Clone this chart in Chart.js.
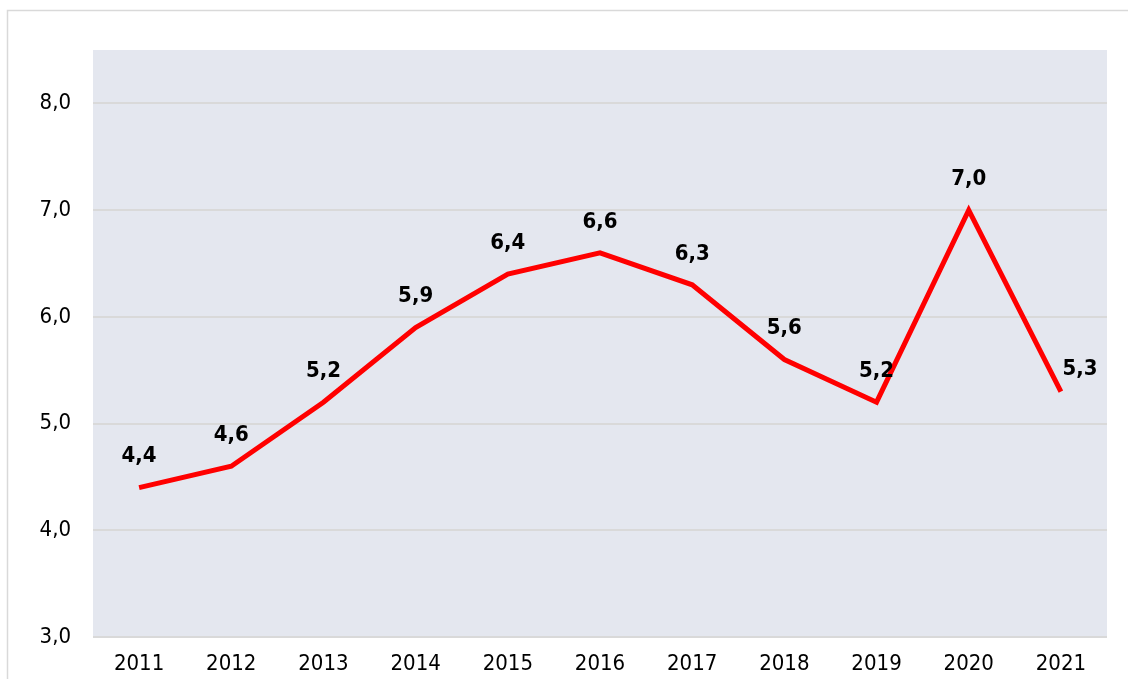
<!DOCTYPE html>
<html><head><meta charset="utf-8">
<script src="https://cdn.jsdelivr.net/npm/chart.js@4/dist/chart.umd.min.js"></script>
<style>html,body{margin:0;padding:0;background:#fff;}#wrap{width:1128px;height:679px;position:relative;}</style>
</head><body><div id="wrap"><canvas id="c" width="1128" height="679"></canvas></div>
<script>
const categories = ['2011','2012','2013','2014','2015','2016','2017','2018','2019','2020','2021'];
const values = [4.4, 4.6, 5.2, 5.9, 6.4, 6.6, 6.3, 5.6, 5.2, 7.0, 5.3];
const yMin = 3, yMax = 8.5, yStep = 1;

const fmt = v => v.toFixed(1).replace('.', ',');

const bgPlugin = {
  id: 'bg',
  beforeDraw(chart) {
    const {ctx, chartArea: a} = chart;
    ctx.save();
    ctx.fillStyle = '#fff';
    ctx.fillRect(0, 0, chart.width, chart.height);
    ctx.strokeStyle = '#d9d9d9';
    ctx.lineWidth = 1.5;
    ctx.strokeRect(7.5, 10.5, chart.width + 10, chart.height + 10);
    ctx.fillStyle = '#e4e7ef';
    ctx.fillRect(a.left, a.top, a.right - a.left, a.bottom - a.top);
    ctx.restore();
  }
};
const labelPlugin = {
  id: 'lbls',
  afterDatasetsDraw(chart) {
    const {ctx} = chart;
    const meta = chart.getDatasetMeta(0);
    ctx.save();
    ctx.font = 'bold 22px "DejaVu Sans Condensed", "DejaVu Sans"';
    ctx.fillStyle = '#000';
    ctx.textAlign = 'center';
    ctx.textBaseline = 'middle';
    meta.data.forEach((pt, i) => {
      const last = i === meta.data.length - 1;
      ctx.fillText(fmt(values[i]), pt.x + (last ? 19 : 0), pt.y - (last ? 22 : 31));
    });
    ctx.restore();
  }
};

new Chart(document.getElementById('c'), {
  type: 'line',
  data: { labels: categories, datasets: [{ data: values, borderColor: '#ff0000', borderWidth: 5, pointRadius: 0, tension: 0, fill: false }] },
  options: {
    responsive: false, animation: false,
    layout: { padding: { top: 50, right: 21, left: 0, bottom: 0 } },
    plugins: { legend: { display: false }, tooltip: { enabled: false } },
    scales: {
      x: {
        offset: true,
        grid: { display: false, drawTicks: false },
        border: { display: false },
        ticks: { color: '#000', font: { family: '"DejaVu Sans Condensed", "DejaVu Sans"', size: 22 }, padding: 14, maxRotation: 0 },
        afterFit(s) { s.height = 42; }
      },
      y: {
        min: yMin, max: yMax,
        grid: { color: c => (Number.isInteger(c.tick.value) ? '#d9d9d9' : 'rgba(0,0,0,0)'), lineWidth: 2, drawTicks: false },
        border: { display: false },
        ticks: { stepSize: yStep, color: '#000', font: { family: '"DejaVu Sans Condensed", "DejaVu Sans"', size: 22 }, padding: 22,
          callback: v => (Number.isInteger(v) ? fmt(v) : '') },
        afterFit(s) { s.width = 93; }
      }
    }
  },
  plugins: [bgPlugin, labelPlugin]
});
</script></body></html>
